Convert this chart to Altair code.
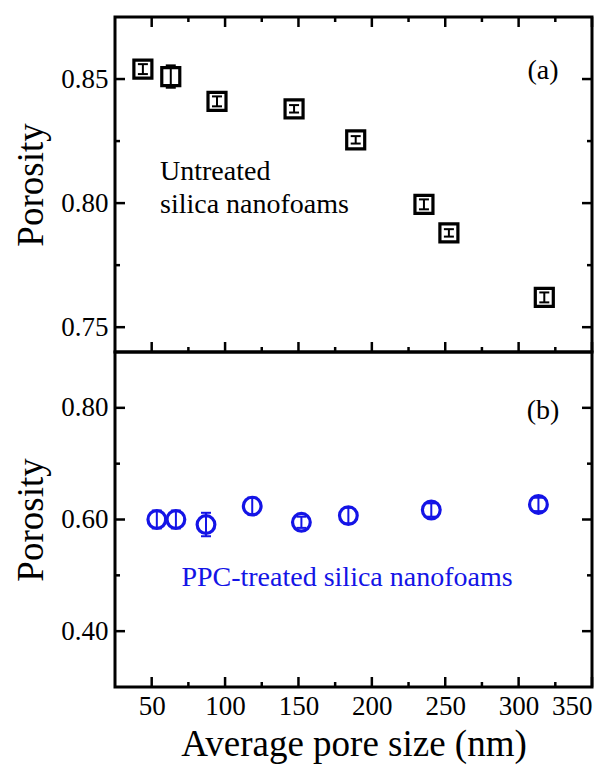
import altair as alt
import pandas as pd

# ---- data ----
x_a = [44, 63, 94.5, 147, 189, 235.5, 252.5, 317.5]
y_a = [0.854, 0.851, 0.841, 0.838, 0.8255, 0.7995, 0.788, 0.762]
err_a = [0.002, 0.0045, 0.002, 0.0015, 0.0015, 0.002, 0.0015, 0.002]

x_b = [53.5, 66.5, 87, 118.5, 152, 184, 240.5, 313.5]
y_b = [0.600, 0.600, 0.591, 0.624, 0.595, 0.607, 0.617, 0.627]
err_b = [0.016, 0.016, 0.021, 0.015, 0.010, 0.014, 0.012, 0.012]

x_major = [50, 100, 150, 200, 250, 300, 350]
x_minor = [75, 125, 175, 225, 275, 325]
ya_major = [0.75, 0.80, 0.85]
ya_minor = [0.775, 0.825]
yb_major = [0.40, 0.60, 0.80]
yb_minor = [0.50, 0.70]

FONT = "Liberation Serif"
W, H1, H2 = 477, 335, 335
MAJ, MIN = 10, 5
BLUE = "#1414e6"

xscale = alt.Scale(domain=[25, 350], nice=False, zero=False)
ya_scale = alt.Scale(domain=[0.74, 0.875], nice=False, zero=False)
yb_scale = alt.Scale(domain=[0.30, 0.90], nice=False, zero=False)

x_axis_none = None
x_axis_b = alt.Axis(values=x_major, format="d", title="Average pore size (nm)",
                    ticks=False, tickSize=0, domain=False, grid=False, labelPadding=6,
                    titlePadding=7)
ya_axis = alt.Axis(values=ya_major, format=".2f", title="Porosity", ticks=False,
                   tickSize=0, domain=False, grid=False, labelPadding=7, titlePadding=10)
yb_axis = alt.Axis(values=yb_major, format=".2f", title="Porosity", ticks=False,
                   tickSize=0, domain=False, grid=False, labelPadding=7, titlePadding=10)


def xticks(vals, length, side, H, axis):
    df = pd.DataFrame({"xv": vals})
    if side == "top":
        yy = dict(y=alt.value(0), y2=alt.value(length))
    else:
        yy = dict(y=alt.value(H), y2=alt.value(H - length))
    return alt.Chart(df).mark_rule(color="black", strokeWidth=2.5).encode(
        x=alt.X("xv:Q", scale=xscale, axis=axis), **yy)


def yticks(vals, length, side, scale, axis):
    df = pd.DataFrame({"yv": vals})
    if side == "left":
        xx = dict(x=alt.value(0), x2=alt.value(length))
    else:
        xx = dict(x=alt.value(W), x2=alt.value(W - length))
    return alt.Chart(df).mark_rule(color="black", strokeWidth=2.5).encode(
        y=alt.Y("yv:Q", scale=scale, axis=axis), **xx)


def data_layers(xs, ys, errs, color, shape, size, xaxis, yscale, yaxis):
    df = pd.DataFrame({"x": xs, "y": ys,
                       "lo": [a - b for a, b in zip(ys, errs)],
                       "hi": [a + b for a, b in zip(ys, errs)]})
    base = alt.Chart(df)
    X = alt.X("x:Q", scale=xscale, axis=xaxis)
    pts = base.mark_point(shape=shape, size=size, filled=False, strokeWidth=3.2,
                          color=color, opacity=1).encode(
        x=X, y=alt.Y("y:Q", scale=yscale, axis=yaxis))
    bar = base.mark_rule(color=color, strokeWidth=2).encode(
        x=X, y=alt.Y("lo:Q", scale=yscale, axis=yaxis), y2="hi:Q")
    cap1 = base.mark_tick(orient="horizontal", size=10, thickness=2, color=color,
                          opacity=1).encode(x=X, y=alt.Y("lo:Q", scale=yscale, axis=yaxis))
    cap2 = base.mark_tick(orient="horizontal", size=10, thickness=2, color=color,
                          opacity=1).encode(x=X, y=alt.Y("hi:Q", scale=yscale, axis=yaxis))
    return [pts, bar, cap1, cap2]


def label(text, x, y, color="black", align="center", size=28):
    return alt.Chart(pd.DataFrame({"t": [text]})).mark_text(
        font=FONT, fontSize=size, color=color, align=align, baseline="middle"
    ).encode(x=alt.value(x), y=alt.value(y), text="t:N")


top = alt.layer(
    *data_layers(x_a, y_a, err_a, "black", "square", 324, x_axis_none, ya_scale, ya_axis),
    xticks(x_major, MAJ, "top", H1, x_axis_none),
    xticks(x_minor, MIN, "top", H1, x_axis_none),
    xticks(x_major, MAJ, "bottom", H1, x_axis_none),
    xticks(x_minor, MIN, "bottom", H1, x_axis_none),
    yticks(ya_major, MAJ, "left", ya_scale, ya_axis),
    yticks(ya_minor, MIN, "left", ya_scale, ya_axis),
    yticks(ya_major, MAJ, "right", ya_scale, ya_axis),
    yticks(ya_minor, MIN, "right", ya_scale, ya_axis),
    label("(a)", 428, 54),
    label("Untreated", 45, 155, align="left"),
    label("silica nanofoams", 45, 188, align="left"),
).properties(width=W, height=H1)

bottom = alt.layer(
    *data_layers(x_b, y_b, err_b, BLUE, "circle", 314, x_axis_b, yb_scale, yb_axis),
    xticks(x_major, MAJ, "bottom", H2, x_axis_b),
    xticks(x_minor, MIN, "bottom", H2, x_axis_b),
    yticks(yb_major, MAJ, "left", yb_scale, yb_axis),
    yticks(yb_minor, MIN, "left", yb_scale, yb_axis),
    yticks(yb_major, MAJ, "right", yb_scale, yb_axis),
    yticks(yb_minor, MIN, "right", yb_scale, yb_axis),
    label("(b)", 428, 59),
    label("PPC-treated silica nanofoams", 232, 226, color=BLUE),
).properties(width=W, height=H2)

chart = alt.vconcat(top, bottom, spacing=0, bounds="flush").properties(
    padding={"left": 11, "top": 14, "right": 10, "bottom": 10},
    background="white",
).configure_view(stroke="black", strokeWidth=3).configure_axis(
    labelFont=FONT, labelFontSize=27, labelColor="black",
    titleFont=FONT, titleFontSize=37, titleFontWeight="normal", titleColor="black",
    grid=False,
)

chart.save("out.html", embed_options={"renderer": "svg", "actions": False})
